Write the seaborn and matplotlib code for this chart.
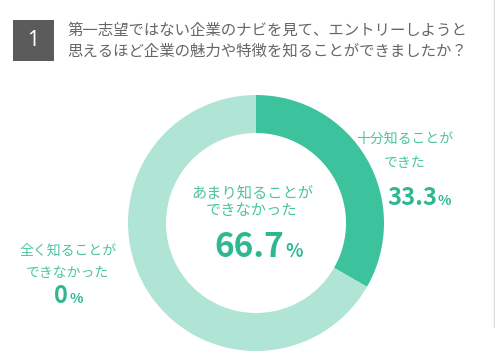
import matplotlib
matplotlib.use("Agg")
import matplotlib.pyplot as plt
import seaborn as sns

sns.set_theme(style="white")
plt.rcParams["font.family"] = ["Noto Sans CJK JP", "DejaVu Sans"]

# data
labels = ["十分知ることが\nできた", "あまり知ることが\nできなかった", "全く知ることが\nできなかった"]
values = [33.3, 66.7, 0]
value_text = ["33.3", "66.7", "0"]
colors = ["#3cc29d", "#b0e5d6", "#8fd9c4"]
title_no = "1"
title = "第一志望ではない企業のナビを見て、エントリーしようと\n思えるほど企業の魅力や特徴を知ることができましたか？"

W, H = 495, 364
fig = plt.figure(figsize=(W / 100, H / 100), dpi=100)
ax = fig.add_axes([0, 0, 1, 1])
ax.set_xlim(0, W)
ax.set_ylim(0, H)
ax.set_aspect("equal")
ax.axis("off")

def py(y):
    return H - y

# donut
ax.pie(values, colors=colors, startangle=90, counterclock=False,
       center=(256, py(223)), radius=128,
       wedgeprops=dict(width=38, linewidth=0))
ax.set_xlim(0, W)
ax.set_ylim(0, H)

# header
ax.add_patch(plt.Rectangle((13, py(61)), 41, 41, color="#5b5b5b", lw=0))
ax.text(33.5, py(41), title_no, color="white", fontsize=15, ha="center", va="center",
        family=["Noto Sans"])
ax.text(67, py(41), title, color="#666666", fontsize=11.1, ha="left", va="center",
        linespacing=1.3)

# right border line
ax.plot([494, 494], [py(0), py(327)], color="#dddddd", lw=1)

lab_c = "#4cc4a2"
num_c = "#2fb88f"

# center label
ax.text(252, py(202), labels[1], color=lab_c, fontsize=11, ha="center", va="center",
        linespacing=1.05)
ax.text(284, py(257), value_text[1], color=num_c, fontsize=24, ha="right", va="baseline",
        fontweight="bold")
ax.text(285, py(257), "%", color=num_c, fontsize=13, ha="left", va="baseline",
        fontweight="bold")

# right label
ax.text(405, py(151), labels[0], color=lab_c, fontsize=10, ha="center", va="center",
        linespacing=2.0)
ax.text(437, py(205), value_text[0], color=num_c, fontsize=17, ha="right", va="baseline",
        fontweight="bold")
ax.text(438, py(205), "%", color=num_c, fontsize=10, ha="left", va="baseline",
        fontweight="bold")

# left label
ax.text(68, py(262), labels[2], color=lab_c, fontsize=10, ha="center", va="center",
        linespacing=1.8)
ax.text(68, py(303), value_text[2], color=num_c, fontsize=17, ha="right", va="baseline",
        fontweight="bold")
ax.text(69, py(303), "%", color=num_c, fontsize=10, ha="left", va="baseline",
        fontweight="bold")

fig.savefig("out.png", dpi=100)
